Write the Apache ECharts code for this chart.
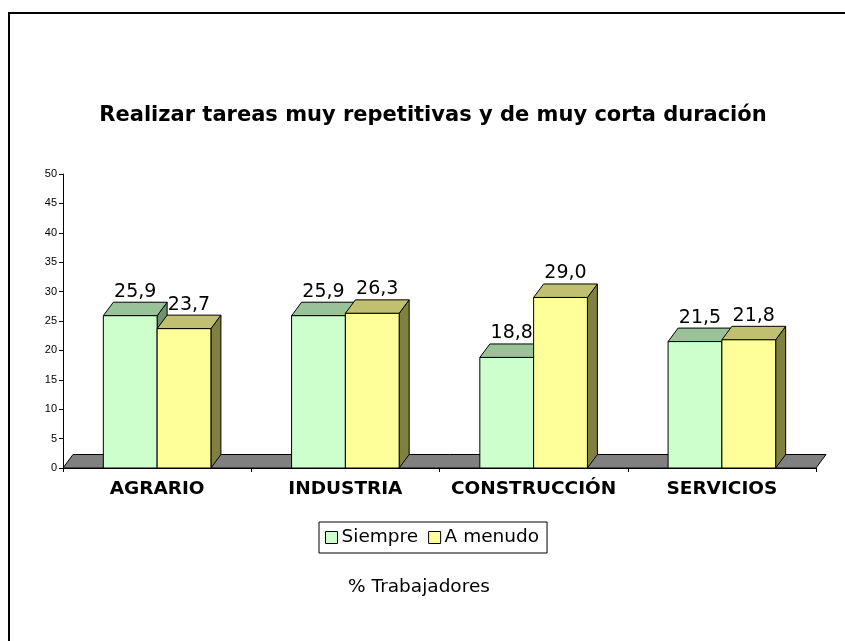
<!DOCTYPE html>
<html>
<head>
<meta charset="utf-8">
<script src="https://cdn.jsdelivr.net/npm/echarts@6/dist/echarts.min.js"></script>
<style>
  html, body { margin: 0; padding: 0; background: #fff; }
  #chart { width: 845px; height: 641px; }
</style>
</head>
<body>
<div id="chart"></div>
<script>
// Categories and values (% of workers)
const categories = ['AGRARIO', 'INDUSTRIA', 'CONSTRUCCIÓN', 'SERVICIOS'];
const siempre = [25.9, 25.9, 18.8, 21.5];
const aMenudo = [23.7, 26.3, 29.0, 21.8];
const seriesNames = ['Siempre', 'A menudo'];
const yMin = 0, yMax = 50, yStep = 5;

const titleText = 'Realizar tareas muy repetitivas y de muy corta duración';
const footText = '% Trabajadores';

// depth offset used for the pseudo-3D faces
const DX = 10, DY = -13.5;
const FONT = '"DejaVu Sans", Verdana, sans-serif';

const palettes = [
  { front: '#CCFFCC', top: '#99C299', side: '#6E926E' },
  { front: '#FFFF99', top: '#C0C070', side: '#808040' }
];

function fmt(v) { return v.toFixed(1).replace('.', ','); }

// One 3D box per value: side face, top face, front face, then its label
function barRenderer(si) {
  return function (params, api) {
    const cat = api.value(0), val = api.value(1);
    const base = api.coord([cat, 0]);
    const top = api.coord([cat, val]);
    const band = api.size([1, 0])[0];
    const w = band / 3.5;
    const x0 = base[0] + (si === 0 ? -w : 0);
    const x1 = x0 + w;
    const yb = base[1], yt = top[1];
    const c = palettes[si];
    const edge = { stroke: '#000', lineWidth: 1 };
    return {
      type: 'group',
      children: [
        { type: 'polygon',
          shape: { points: [[x1, yb], [x1 + DX, yb + DY], [x1 + DX, yt + DY], [x1, yt]] },
          style: Object.assign({ fill: c.side }, edge) },
        { type: 'polygon',
          shape: { points: [[x0, yt], [x1, yt], [x1 + DX, yt + DY], [x0 + DX, yt + DY]] },
          style: Object.assign({ fill: c.top }, edge) },
        { type: 'rect',
          shape: { x: x0, y: yt, width: w, height: yb - yt },
          style: Object.assign({ fill: c.front }, edge) },
        { type: 'text',
          x: (x0 + x1) / 2 + DX / 2, y: yt + DY - 1,
          style: { text: fmt(val), fill: '#000', font: '19px ' + FONT,
                   align: 'center', verticalAlign: 'bottom' } }
      ]
    };
  };
}

// grey floor under the bars, spanning the whole plot width
function floorRenderer(params, api) {
  const cs = params.coordSys;
  const yb = cs.y + cs.height;
  return {
    type: 'polygon',
    shape: { points: [[cs.x, yb], [cs.x + cs.width, yb], [cs.x + cs.width + DX, yb + DY], [cs.x + DX, yb + DY]] },
    style: { fill: '#808080', stroke: '#000', lineWidth: 1 }
  };
}

const chart = echarts.init(document.getElementById('chart'), null, { renderer: 'canvas' });

chart.setOption({
  animation: false,
  backgroundColor: '#fff',
  grid: { left: 63, right: 29, top: 174, bottom: 173 },
  xAxis: {
    type: 'category',
    data: categories,
    boundaryGap: true,
    axisLine: { lineStyle: { color: '#000', width: 1 } },
    axisTick: { show: true, interval: 0, length: 4, lineStyle: { color: '#000' } },
    axisLabel: { interval: 0, color: '#000', fontFamily: FONT, fontWeight: 'bold', fontSize: 18.5, margin: 12 }
  },
  yAxis: {
    type: 'value',
    min: yMin, max: yMax, interval: yStep,
    axisLine: { show: true, lineStyle: { color: '#000', width: 1 } },
    axisTick: { show: true, length: 4, lineStyle: { color: '#000' } },
    axisLabel: { color: '#000', fontFamily: '"Liberation Sans", Arial, sans-serif', fontSize: 11, margin: 6 },
    splitLine: { show: false }
  },
  legend: {
    data: seriesNames,
    left: 319, top: 522,
    orient: 'horizontal',
    borderColor: '#000', borderWidth: 1,
    padding: [6, 8, 6, 6],
    itemWidth: 12, itemHeight: 12, itemGap: 10,
    icon: 'rect',
    itemStyle: { borderColor: '#000', borderWidth: 1 },
    textStyle: { color: '#000', fontFamily: FONT, fontSize: 18.5, padding: [0, 0, 0, -1] }
  },
  graphic: [
    { type: 'rect', shape: { x: 9, y: 13, width: 900, height: 700 },
      style: { fill: 'none', stroke: '#000', lineWidth: 2 }, silent: true },
    { type: 'text', x: 433, y: 116,
      style: { text: titleText, fill: '#000', font: 'bold 21px ' + FONT, align: 'center', verticalAlign: 'middle' } },
    { type: 'text', x: 419, y: 587,
      style: { text: footText, fill: '#000', font: '18.5px ' + FONT, align: 'center', verticalAlign: 'middle' } }
  ],
  series: [
    { type: 'custom', name: 'floor', renderItem: floorRenderer, data: [[0, 0]], silent: true, z: 1 },
    { type: 'custom', name: seriesNames[0], renderItem: barRenderer(0),
      itemStyle: { color: palettes[0].front },
      data: siempre.map((v, i) => [i, v]), z: 2 },
    { type: 'custom', name: seriesNames[1], renderItem: barRenderer(1),
      itemStyle: { color: palettes[1].front },
      data: aMenudo.map((v, i) => [i, v]), z: 3 }
  ]
});
</script>
</body>
</html>
